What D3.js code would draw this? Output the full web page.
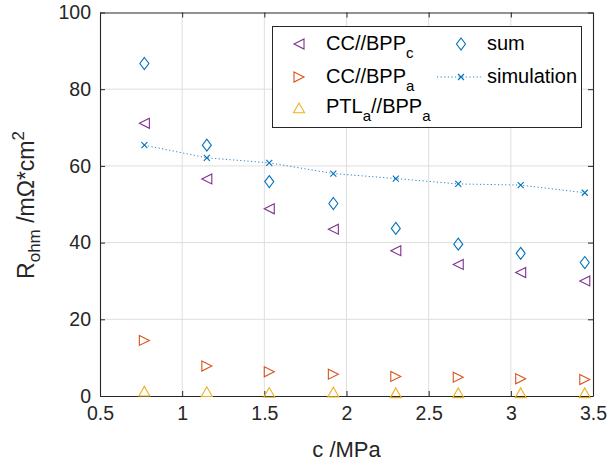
<!DOCTYPE html>
<html>
<head>
<meta charset="utf-8">
<script src="https://cdn.jsdelivr.net/npm/d3@7"></script>
<style>
  html, body { margin: 0; padding: 0; background: #fff; }
  svg { display: block; font-family: "Liberation Sans", Arial, Helvetica, sans-serif; }
</style>
</head>
<body>
<svg id="chart" width="611" height="466"></svg>
<script>
// ---- data ----
const pressure = [0.77, 1.15, 1.53, 1.92, 2.30, 2.68, 3.06, 3.45];
const ccBppC   = [71.1, 56.6, 48.8, 43.5, 37.9, 34.3, 32.2, 30.0];
const ccBppA   = [14.5, 7.8, 6.3, 5.7, 5.1, 4.9, 4.5, 4.3];
const ptlBppA  = [1.2, 1.1, 0.9, 1.0, 0.8, 0.8, 0.8, 0.8];
const sumVals  = [86.7, 65.4, 55.9, 50.2, 43.7, 39.6, 37.2, 34.8];
const simVals  = [65.4, 62.1, 60.8, 58.0, 56.7, 55.3, 55.0, 53.0];
const xTicks = [0.5, 1, 1.5, 2, 2.5, 3, 3.5];
const yTicks = [0, 20, 40, 60, 80, 100];

const colPurple = "#7E2F8E", colOrange = "#D95319", colYellow = "#EDB120", colBlue = "#0072BD";
const axisCol = "#262626";

const svg = d3.select("#chart");
const L = 100, R = 593, T = 12.5, B = 396;
const x = d3.scaleLinear().domain([0.5, 3.5]).range([L, R]);
const y = d3.scaleLinear().domain([0, 100]).range([B, T]);

// grid
const g = svg.append("g");
g.selectAll(".gx").data(xTicks.slice(1, -1)).enter().append("line")
  .attr("x1", d => x(d)).attr("x2", d => x(d)).attr("y1", T).attr("y2", B)
  .attr("stroke", "#dedede").attr("stroke-width", 1);
g.selectAll(".gy").data(yTicks.slice(1, -1)).enter().append("line")
  .attr("y1", d => y(d)).attr("y2", d => y(d)).attr("x1", L).attr("x2", R)
  .attr("stroke", "#dedede").attr("stroke-width", 1);

// axes (inward ticks)
const fs = 19.5;
const xAxisB = d3.axisBottom(x).tickValues(xTicks).tickFormat(d3.format("")).tickSizeInner(-5).tickSizeOuter(0).tickPadding(10);
const xAxisT = d3.axisTop(x).tickValues(xTicks).tickFormat("").tickSizeInner(-5).tickSizeOuter(0);
const yAxisL = d3.axisLeft(y).tickValues(yTicks).tickFormat(d3.format("")).tickSizeInner(-5).tickSizeOuter(0).tickPadding(9);
const yAxisR = d3.axisRight(y).tickValues(yTicks).tickFormat("").tickSizeInner(-5).tickSizeOuter(0);

function styleAxis(sel) {
  sel.selectAll("path").attr("stroke", axisCol).attr("stroke-width", 1.1);
  sel.selectAll("line").attr("stroke", axisCol).attr("stroke-width", 1);
  sel.selectAll("text").attr("fill", axisCol).attr("font-size", fs).attr("font-family", "Liberation Sans, Arial, sans-serif");
}
svg.append("g").attr("transform", `translate(0,${B})`).call(xAxisB).call(styleAxis);
svg.append("g").attr("transform", `translate(0,${T})`).call(xAxisT).call(styleAxis);
svg.append("g").attr("transform", `translate(${L},0)`).call(yAxisL).call(styleAxis);
svg.append("g").attr("transform", `translate(${R},0)`).call(yAxisR).call(styleAxis);

// markers
function triLeft(s) { const h = s / 2; return `M${h},${-h} L${-h},0 L${h},${h} Z`; }
function triRight(s) { const h = s / 2; return `M${-h},${-h} L${h},0 L${-h},${h} Z`; }
function triUp(s) { const h = s / 2; return `M${-h},${h*0.85} L0,${-h*0.9} L${h},${h*0.85} Z`; }
function diamond(w, h) { return `M0,${-h/2} L${w/2},0 L0,${h/2} L${-w/2},0 Z`; }
function cross(s) { const h = s / 2; return `M${-h},${-h} L${h},${h} M${-h},${h} L${h},${-h}`; }

const plot = svg.append("g");
function drawMarkers(vals, pathStr, color) {
  plot.selectAll(null).data(vals).enter().append("path")
    .attr("d", pathStr)
    .attr("transform", (d, i) => `translate(${x(pressure[i])},${y(d)})`)
    .attr("fill", "none").attr("stroke", color).attr("stroke-width", 1.1);
}
// simulation dotted line
const line = d3.line().x((d, i) => x(pressure[i])).y(d => y(d));
plot.append("path").datum(simVals).attr("d", line)
  .attr("fill", "none").attr("stroke", colBlue).attr("stroke-width", 1).attr("stroke-dasharray", "1.2,2.4").attr("opacity", 0.85);
drawMarkers(simVals, cross(6), colBlue);
drawMarkers(sumVals, diamond(9, 12), colBlue);
drawMarkers(ccBppC, triLeft(10), colPurple);
drawMarkers(ccBppA, triRight(10), colOrange);
drawMarkers(ptlBppA, triUp(11), colYellow);

// legend
const lfs = 20;
const leg = svg.append("g");
leg.append("rect").attr("x", 272.5).attr("y", 26.5).attr("width", 309).attr("height", 101)
  .attr("fill", "#fff").attr("stroke", axisCol).attr("stroke-width", 1);
function legText(xp, yp, parts) {
  const t = leg.append("text").attr("x", xp).attr("y", yp).attr("font-size", lfs).attr("fill", "#000");
  let shifted = false;
  parts.forEach(p => {
    const ts = t.append("tspan").text(p.t);
    if (p.sub) { ts.attr("font-size", lfs * 0.75).attr("dy", 8); shifted = true; }
    else if (shifted) { ts.attr("dy", -8); shifted = false; }
  });
}
leg.append("path").attr("d", triLeft(10)).attr("transform", "translate(299,44)").attr("fill", "none").attr("stroke", colPurple).attr("stroke-width", 1.1);
leg.append("path").attr("d", triRight(10)).attr("transform", "translate(299,77)").attr("fill", "none").attr("stroke", colOrange).attr("stroke-width", 1.1);
leg.append("path").attr("d", triUp(11)).attr("transform", "translate(299,108)").attr("fill", "none").attr("stroke", colYellow).attr("stroke-width", 1.1);
legText(326, 50, [{t: "CC//BPP"}, {t: "c", sub: true}]);
legText(326, 83, [{t: "CC//BPP"}, {t: "a", sub: true}]);
legText(326, 113, [{t: "PTL"}, {t: "a", sub: true}, {t: "//BPP"}, {t: "a", sub: true}]);
leg.append("path").attr("d", diamond(9, 12)).attr("transform", "translate(461,44)").attr("fill", "none").attr("stroke", colBlue).attr("stroke-width", 1.1);
leg.append("line").attr("x1", 437).attr("x2", 481).attr("y1", 77).attr("y2", 77)
  .attr("stroke", colBlue).attr("stroke-dasharray", "1.2,2.4").attr("opacity", 0.85);
leg.append("path").attr("d", cross(6)).attr("transform", "translate(461,77)").attr("fill", "none").attr("stroke", colBlue).attr("stroke-width", 1.1);
legText(487, 50, [{t: "sum"}]);
legText(487, 83, [{t: "simulation"}]);

// axis labels
svg.append("text").attr("x", (L + R) / 2).attr("y", 457).attr("text-anchor", "middle")
  .attr("font-size", 22).attr("fill", axisCol).text("c /MPa");
const yl = svg.append("text").attr("transform", "translate(34,205) rotate(-90)").attr("text-anchor", "middle")
  .attr("font-size", 23).attr("fill", axisCol);
yl.append("tspan").text("R");
yl.append("tspan").attr("font-size", 17).attr("dy", 6).text("ohm");
yl.append("tspan").attr("dy", -6).text(" /m\u03A9*cm");
yl.append("tspan").attr("font-size", 17).attr("dy", -10).text("2");
</script>
</body>
</html>
